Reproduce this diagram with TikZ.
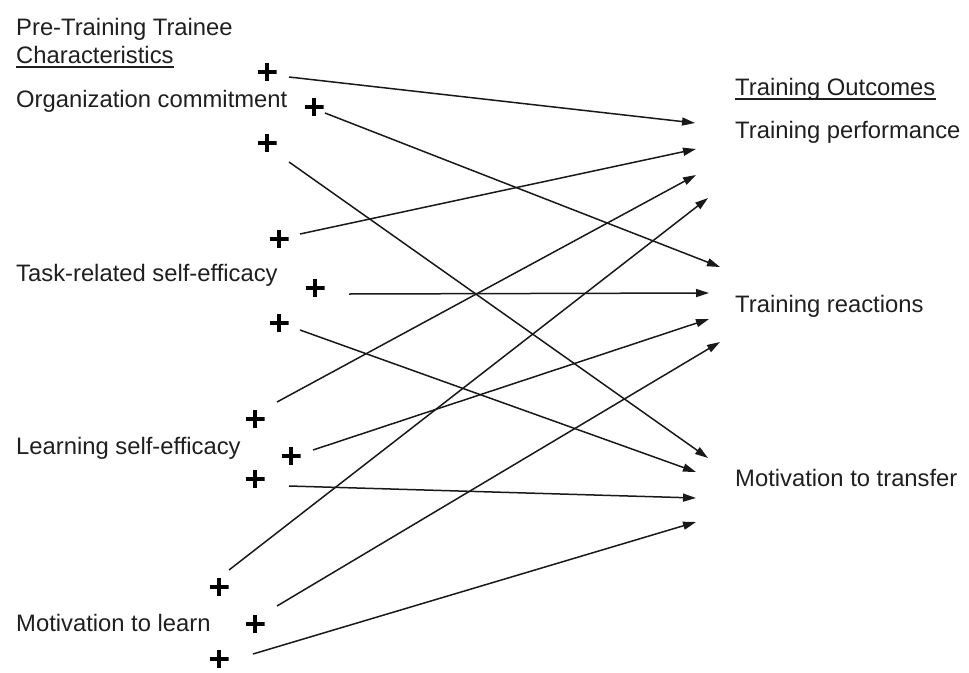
\documentclass[tikz,border=0pt]{standalone}
\usepackage{fontspec}
\setmainfont{Liberation Sans}
\usetikzlibrary{arrows.meta}
\begin{document}
\begin{tikzpicture}[x=1pt,y=-1pt,
  lbl/.style={anchor=base west, inner sep=0pt, font=\fontsize{23.8}{28}\selectfont, text=black!88},
  uline/.style={line width=2pt, black!88},
  plus/.style={minimum width=19pt, minimum height=18pt, inner sep=0pt,
    path picture={\draw[line width=3.8pt] (path picture bounding box.north) -- (path picture bounding box.south)
      (path picture bounding box.west) -- (path picture bounding box.east);}},
  arr/.style={line width=1.5pt, black!90, -{Triangle[length=13pt,width=8pt]}}]
\useasboundingbox (0,0) rectangle (969,672);

% left labels
\node[lbl] (hdrA) at (16,35) {Pre-Training Trainee};
\node[lbl] (hdrB) at (16,63) {Characteristics};
\draw[uline] ([yshift=-3.5pt]hdrB.base west) -- ([yshift=-3.5pt]hdrB.base east);
\node[lbl] (oc) at (16,107) {Organization commitment};
\node[lbl] (tse) at (16,281) {Task-related self-efficacy};
\node[lbl] (lse) at (16,454) {Learning self-efficacy};
\node[lbl] (mtl) at (16,631) {Motivation to learn};

% right labels
\node[lbl] (hdrR) at (735,95) {Training Outcomes};
\draw[uline] ([yshift=-3.5pt]hdrR.base west) -- ([yshift=-3.5pt]hdrR.base east);
\node[lbl] (tp) at (735,138) {Training performance};
\node[lbl] (tr) at (735,312) {Training reactions};
\node[lbl] (mtt) at (735,486) {Motivation to transfer};

% plus signs
\node[plus] (p1) at (267,72) {};
\node[plus] (p2) at (314,107) {};
\node[plus] (p3) at (267,143) {};
\node[plus] (p4) at (279,239) {};
\node[plus] (p5) at (315,288) {};
\node[plus] (p6) at (279,323) {};
\node[plus] (p7) at (255,419) {};
\node[plus] (p8) at (291,456) {};
\node[plus] (p9) at (255,479) {};
\node[plus] (p10) at (219,587) {};
\node[plus] (p11) at (255,624) {};
\node[plus] (p12) at (219,659) {};

% start points
\coordinate (s1) at (289,77);
\coordinate (s2) at (325,113);
\coordinate (s3) at (289,162);
\coordinate (s4) at (300,234);
\coordinate (s5) at (349,294);
\coordinate (s6) at (300,330);
\coordinate (s7) at (277,402);
\coordinate (s8) at (313,450);
\coordinate (s9) at (289,486);
\coordinate (s10) at (229,570);
\coordinate (s11) at (277,606);
\coordinate (s12) at (253,654);

% end points
\coordinate (e1) at (695,123);
\coordinate (e2) at (696,149);
\coordinate (e3) at (696,175);
\coordinate (e4) at (708,198);
\coordinate (e5) at (720,267);
\coordinate (e6) at (709,293);
\coordinate (e7) at (709,319);
\coordinate (e8) at (720,342);
\coordinate (e9) at (708,458);
\coordinate (e10) at (696,472);
\coordinate (e11) at (696,498);
\coordinate (e12) at (696,522);

\draw[arr] (s1) -- (e1);
\draw[arr] (s2) -- (e5);
\draw[arr] (s3) -- (e9);
\draw[arr] (s4) -- (e2);
\draw[arr] (s5) -- (e6);
\draw[arr] (s6) -- (e10);
\draw[arr] (s7) -- (e3);
\draw[arr] (s8) -- (e7);
\draw[arr] (s9) -- (e11);
\draw[arr] (s10) -- (e4);
\draw[arr] (s11) -- (e8);
\draw[arr] (s12) -- (e12);
\end{tikzpicture}
\end{document}
